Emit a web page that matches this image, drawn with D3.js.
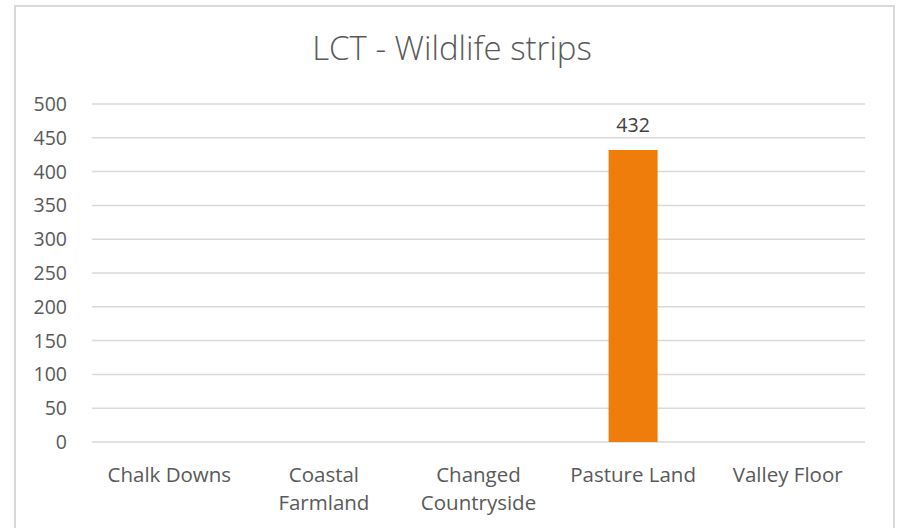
<!DOCTYPE html>
<html>
<head>
<meta charset="utf-8">
<script src="https://cdn.jsdelivr.net/npm/d3@7"></script>
<style>
  html, body { margin: 0; padding: 0; background: #fff; }
  svg { display: block; }
</style>
</head>
<body>
<svg id="chart" width="900" height="528"></svg>
<script>
const title = "LCT - Wildlife strips";
const categories = ["Chalk Downs", "Coastal Farmland", "Changed Countryside", "Pasture Land", "Valley Floor"];
const values = [null, null, null, 432, null];
const yTicks = [0, 50, 100, 150, 200, 250, 300, 350, 400, 450, 500];

const svg = d3.select("#chart");
const font = "'Open Sans', 'Noto Sans', sans-serif";
const textColor = "#595959";

// outer border
svg.append("rect")
  .attr("x", 15).attr("y", 6)
  .attr("width", 879).attr("height", 540)
  .attr("fill", "#fff")
  .attr("stroke", "#d9d9d9").attr("stroke-width", 2);

const plot = { left: 92, right: 865, top: 104, bottom: 442 };

const x = d3.scaleBand()
  .domain(categories)
  .range([plot.left, plot.right])
  .paddingInner(0.683)
  .paddingOuter(0.683 / 2);

const y = d3.scaleLinear()
  .domain([0, 500])
  .range([plot.bottom, plot.top]);

// gridlines
svg.append("g")
  .selectAll("line")
  .data(yTicks)
  .join("line")
  .attr("x1", plot.left).attr("x2", plot.right)
  .attr("y1", d => y(d)).attr("y2", d => y(d))
  .attr("stroke", "#d9d9d9").attr("stroke-width", 1.5);

// y tick labels
svg.append("g")
  .selectAll("text")
  .data(yTicks)
  .join("text")
  .attr("x", 67)
  .attr("y", d => y(d) + 7)
  .attr("text-anchor", "end")
  .attr("font-family", font)
  .attr("font-size", 19.5)
  .attr("fill", textColor)
  .text(d => d);

// bars
const data = categories.map((c, i) => ({ c, v: values[i] })).filter(d => d.v != null);
svg.append("g")
  .selectAll("rect")
  .data(data)
  .join("rect")
  .attr("x", d => x(d.c))
  .attr("y", d => y(d.v))
  .attr("width", x.bandwidth())
  .attr("height", d => y(0) - y(d.v))
  .attr("fill", "#ef7d0b");

// data labels
svg.append("g")
  .selectAll("text")
  .data(data)
  .join("text")
  .attr("x", d => x(d.c) + x.bandwidth() / 2)
  .attr("y", d => y(d.v) - 18)
  .attr("text-anchor", "middle")
  .attr("font-family", font)
  .attr("font-size", 19.5)
  .attr("fill", "#404040")
  .text(d => d.v);

// category labels with wrapping
const maxW = 145;
const catG = svg.append("g");
categories.forEach(c => {
  const cx = x(c) + x.bandwidth() / 2;
  const t = catG.append("text")
    .attr("text-anchor", "middle")
    .attr("font-family", font)
    .attr("font-size", 20.5)
    .attr("fill", textColor);
  const words = c.split(" ");
  let lines = [];
  let cur = [];
  const probe = t.append("tspan");
  words.forEach(w => {
    const test = cur.concat([w]).join(" ");
    probe.text(test);
    if (probe.node().getComputedTextLength() > maxW && cur.length) {
      lines.push(cur.join(" "));
      cur = [w];
    } else {
      cur.push(w);
    }
  });
  lines.push(cur.join(" "));
  probe.remove();
  lines.forEach((ln, i) => {
    t.append("tspan")
      .attr("x", cx)
      .attr("y", 482 + i * 28)
      .text(ln);
  });
});

// title
svg.append("text")
  .attr("x", 452)
  .attr("y", 60)
  .attr("text-anchor", "middle")
  .attr("font-family", font)
  .attr("font-weight", 300)
  .attr("font-size", 33)
  .attr("fill", textColor)
  .text(title);
</script>
</body>
</html>
